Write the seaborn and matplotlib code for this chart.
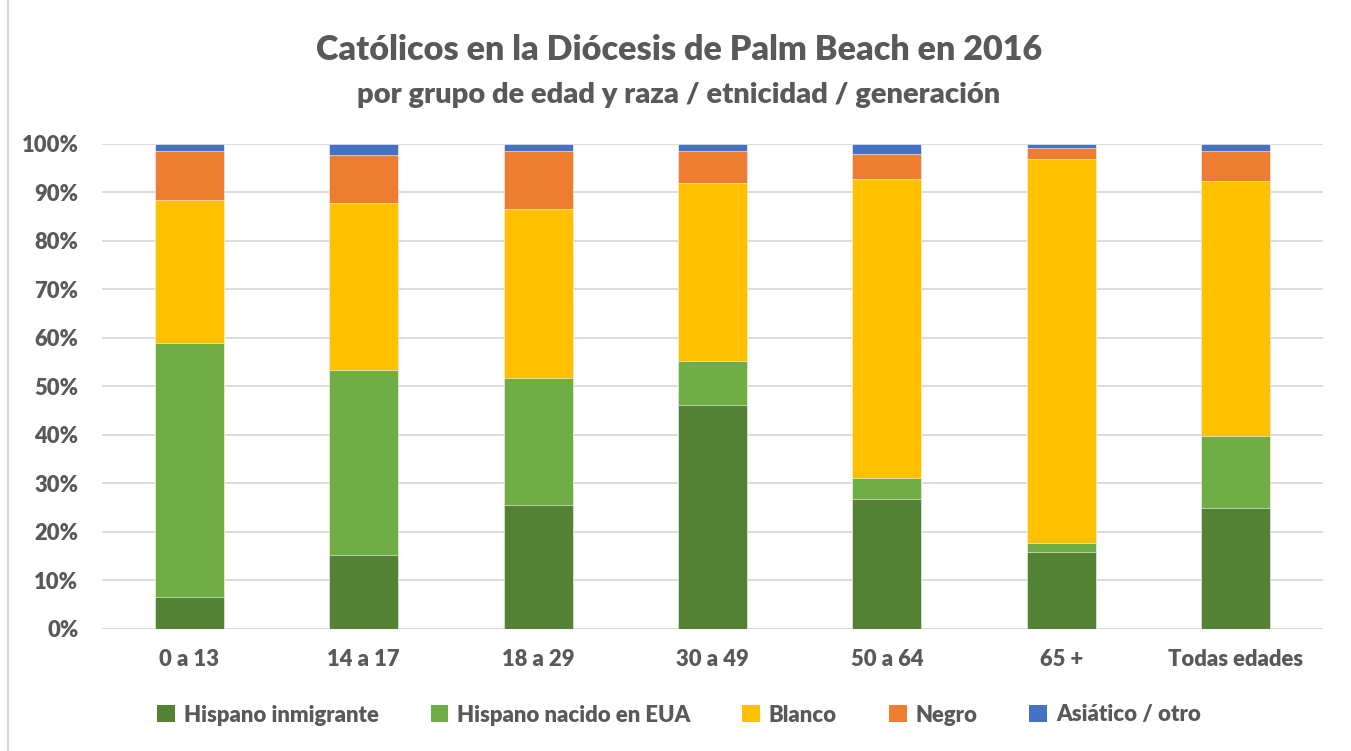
import numpy as np
import pandas as pd
import matplotlib
matplotlib.use("Agg")
import matplotlib.pyplot as plt
import seaborn as sns
from matplotlib.patches import Patch
from matplotlib.lines import Line2D

# Datos (porcentajes)
grupos = ["0 a 13", "14 a 17", "18 a 29", "30 a 49", "50 a 64", "65 +", "Todas edades"]
series = ["Hispano inmigrante", "Hispano nacido en EUA", "Blanco", "Negro", "Asiático / otro"]
hispano_inmigrante = [6.4, 15.2, 25.4, 46.1, 26.8, 15.7, 24.8]
hispano_nacido_eua = [52.5, 38.2, 26.2, 9.1, 4.2, 1.9, 14.9]
blanco = [29.6, 34.5, 35.0, 36.8, 61.7, 79.4, 52.6]
negro = [10.0, 9.9, 11.9, 6.6, 5.2, 2.1, 6.3]
asiatico_otro = [1.5, 2.2, 1.5, 1.4, 2.1, 0.9, 1.4]

colores = ["#548235", "#70AD47", "#FFC000", "#ED7D31", "#4472C4"]
gris_texto = "#595959"

sns.set_style("white")
plt.rcParams["font.family"] = ["Lato", "DejaVu Sans"]
plt.rcParams["font.weight"] = "bold"

# tabla larga con sumas acumuladas para apilar
valores = np.array([hispano_inmigrante, hispano_nacido_eua, blanco, negro, asiatico_otro])
acumulado = valores.cumsum(axis=0)
df = pd.DataFrame(
    [(g, s, acumulado[i, j]) for i, s in enumerate(series) for j, g in enumerate(grupos)],
    columns=["grupo", "serie", "acumulado"],
)

fig = plt.figure(figsize=(13.51, 7.51), dpi=100)
ax = fig.add_axes([102 / 1351, 1 - 628.5 / 751, 1221 / 1351, 484.5 / 751])

# dibujar de mayor a menor acumulado para que cada tramo quede visible
paleta = dict(zip(series, colores))
sns.barplot(
    data=df, x="grupo", y="acumulado", hue="serie",
    hue_order=series[::-1], order=grupos, palette=paleta,
    dodge=False, width=0.395, saturation=1, legend=False,
    edgecolor="white", linewidth=0.4, ax=ax,
)

ax.set_ylim(0, 100)
ax.set_xlim(-0.5, len(grupos) - 0.5)
ax.set_yticks(np.arange(0, 101, 10))
ax.set_yticklabels([f"{v}%" for v in range(0, 101, 10)])
ax.grid(axis="y", color="#D9D9D9", linewidth=1.3)
ax.set_axisbelow(True)
sns.despine(ax=ax, left=True, bottom=True)
ax.tick_params(axis="both", length=0, labelsize=15.8, labelcolor=gris_texto)
ax.tick_params(axis="x", pad=15)
ax.tick_params(axis="y", pad=17)
ax.set_xlabel("")
ax.set_ylabel("")
for lbl in ax.get_xticklabels() + ax.get_yticklabels():
    lbl.set_fontweight("heavy")

fig.text(0.5026, 1 - 50 / 751, "Católicos en la Diócesis de Palm Beach en 2016",
         ha="center", va="center", fontsize=24.6, fontweight="heavy", color=gris_texto)
fig.text(0.5026, 1 - 95 / 751, "por grupo de edad y raza / etnicidad / generación",
         ha="center", va="center", fontsize=21, fontweight="heavy", color=gris_texto)

handles = [Patch(facecolor=c, edgecolor="none") for c in colores]
leg = fig.legend(handles, series, loc="center", bbox_to_anchor=(0.5026, 1 - 715 / 751),
                 ncol=5, frameon=False, fontsize=15.9, labelcolor=gris_texto,
                 handlelength=0.8, handleheight=0.8, handletextpad=0.4, columnspacing=2.35)
for t in leg.get_texts():
    t.set_fontweight("heavy")

# borde izquierdo del área del gráfico
fig.add_artist(Line2D([8 / 1351, 8 / 1351], [0, 1], color="#D9D9D9", linewidth=1.5,
                      transform=fig.transFigure))

fig.savefig("out.png", dpi=100)
